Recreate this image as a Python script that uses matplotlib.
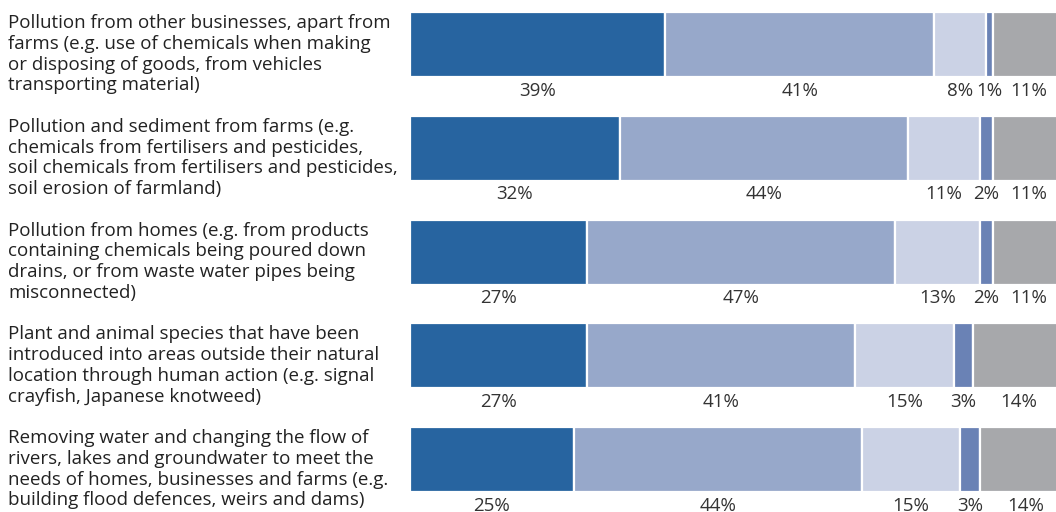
import matplotlib
matplotlib.use("Agg")
import matplotlib.pyplot as plt
import numpy as np

categories = [
    "Pollution from other businesses, apart from\nfarms (e.g. use of chemicals when making\nor disposing of goods, from vehicles\ntransporting material)",
    "Pollution and sediment from farms (e.g.\nchemicals from fertilisers and pesticides,\nsoil chemicals from fertilisers and pesticides,\nsoil erosion of farmland)",
    "Pollution from homes (e.g. from products\ncontaining chemicals being poured down\ndrains, or from waste water pipes being\nmisconnected)",
    "Plant and animal species that have been\nintroduced into areas outside their natural\nlocation through human action (e.g. signal\ncrayfish, Japanese knotweed)",
    "Removing water and changing the flow of\nrivers, lakes and groundwater to meet the\nneeds of homes, businesses and farms (e.g.\nbuilding flood defences, weirs and dams)",
]

seg1 = [39, 32, 27, 27, 25]
seg2 = [41, 44, 47, 41, 44]
seg3 = [8, 11, 13, 15, 15]
seg4 = [1, 2, 2, 3, 3]
seg5 = [11, 11, 11, 14, 14]

colors = ["#2764a0", "#97a8ca", "#cbd2e5", "#6a82b5", "#a7a8ab"]

W, H = 1056, 512
fig = plt.figure(figsize=(W / 100, H / 100), dpi=100)
font = "Open Sans"

# axes: left edge at 410 px, 100% reaches ~1065 px (beyond the right border)
ax = fig.add_axes([410 / W, 0, 655 / W, 1])
pitch = 103.75
c0 = 44.5
ax.set_ylim((H - c0) / pitch, -c0 / pitch)
ax.set_xlim(0, 100)
ax.axis("off")

bar_h = 65 / pitch
series = [seg1, seg2, seg3, seg4, seg5]
y = np.arange(len(categories))
left = np.zeros(len(categories))
for vals, col in zip(series, colors):
    vals = np.array(vals, dtype=float)
    ax.barh(y, vals, left=left, height=bar_h, color=col,
            edgecolor="white", linewidth=1.6)
    for yi, l, v in zip(y, left, vals):
        ax.text(l + v / 2, yi + bar_h / 2 + 13.5 / pitch, f"{int(v)}%",
                ha="center", va="center", fontsize=13.5, color="#333333",
                family=font)
    left += vals

for i, cat in enumerate(categories):
    top_px = c0 + pitch * i - 30.5
    fig.text(8 / W, 1 - top_px / H, cat, ha="left", va="top",
             fontsize=13.5, color="#222222", family=font, linespacing=1.2)

fig.savefig("out.png", dpi=100)
